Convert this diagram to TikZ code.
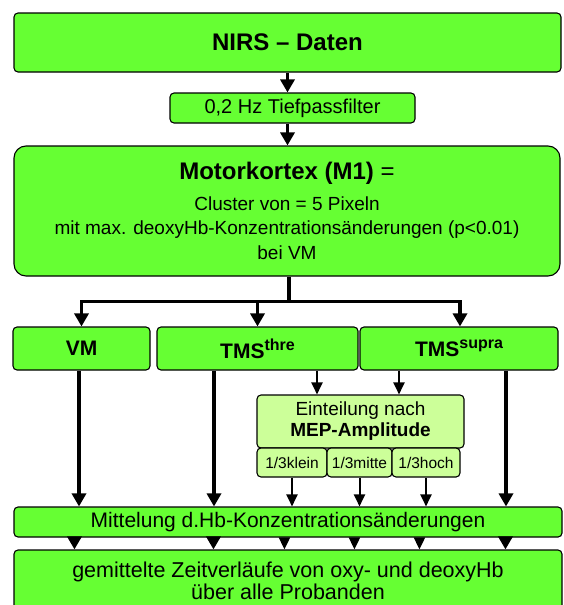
\documentclass[tikz,border=0pt]{standalone}
\usepackage{fontspec}
\setmainfont{Liberation Sans}
\usetikzlibrary{arrows.meta}
\definecolor{boxgreen}{HTML}{66FF33}
\definecolor{litegreen}{HTML}{CCFF99}
\tikzset{
  box/.style={draw, line width=1.1pt, fill=boxgreen, rounded corners=4pt, inner sep=0pt, align=center, font=\fontsize{20}{24}\selectfont},
  litebox/.style={box, fill=litegreen},
  bigarrow/.style={line width=3.6pt, -{Triangle[width=14pt,length=13pt]}},
  smallarrow/.style={line width=2pt, -{Triangle[width=11pt,length=12pt]}},
  bar/.style={line width=4pt}
}

\begin{document}
\begin{tikzpicture}[x=1pt,y=-1pt]
			%%%%% START %%%%%
			\path[use as bounding box, clip] (0,0) rectangle (563,605);
			
			\node[box, minimum width=547pt, minimum height=59pt, font=\fontsize{24}{28}\selectfont\bfseries] (nirs) at (287.5,42.5) {NIRS – Daten};
			\node[box, minimum width=245pt, minimum height=30pt] (tief) at (292.5,108) {0,2 Hz Tiefpassfilter};
			\node[box, rounded corners=12pt, minimum width=546pt, minimum height=130pt, font=\fontsize{19}{24.5}\selectfont] (motor) at (287,211)
			  {{\fontsize{24}{28}\selectfont\textbf{Motorkortex (M1)} =}\\[6pt]
			   Cluster von = 5 Pixeln\\
			   mit max. deoxyHb-Konzentrationsänderungen (p<0.01)\\
			   bei VM};
			
			\node[box, minimum width=137pt, minimum height=43pt, font=\fontsize{21}{24}\selectfont\bfseries] (vm) at (81.5,348.5) {VM};
			\node[box, minimum width=201pt, minimum height=43pt, font=\fontsize{21}{24}\selectfont\bfseries] (thre) at (257.5,348.5)
			  {TMS\raisebox{8pt}{\fontsize{16}{16}\selectfont thre}};
			\node[box, minimum width=198pt, minimum height=43pt, font=\fontsize{21}{24}\selectfont\bfseries] (supra) at (459,348.5)
			  {TMS\raisebox{8pt}{\fontsize{16}{16}\selectfont supra}};
			
			\node[litebox, minimum width=207pt, minimum height=53pt, font=\fontsize{19}{21}\selectfont] (eint) at (360.5,421.5) {Einteilung nach\\\textbf{MEP-Amplitude}};
			\node[litebox, minimum width=70pt, minimum height=29pt, font=\fontsize{15.5}{18}\selectfont] (klein) at (292,462.5) {1/3klein};
			\node[litebox, minimum width=65pt, minimum height=29pt, font=\fontsize{15.5}{18}\selectfont] (mitte) at (359.5,462.5) {1/3mitte};
			\node[litebox, minimum width=68pt, minimum height=29pt, font=\fontsize{15.5}{18}\selectfont] (hoch) at (426,462.5) {1/3hoch};
			
			\node[box, minimum width=548pt, minimum height=30pt, font=\fontsize{21}{24}\selectfont] (mittel) at (288,522) {Mittelung d.Hb-Konzentrationsänderungen};
			\node[box, minimum width=548pt, minimum height=62pt, font=\fontsize{21.5}{22}\selectfont] (gem) at (288,581)
			  {gemittelte Zeitverläufe von oxy- und deoxyHb\\über alle Probanden};
			
			% top chain
			\draw[bigarrow] (nirs.south) -- (nirs.south |- tief.north);
			\draw[bigarrow] (nirs.south |- tief.south) -- (nirs.south |- motor.north);
			
			% split to the three conditions
			\coordinate (split) at ([xshift=2pt, yshift=-25pt]motor.south);
			\draw[bar] ([xshift=2pt]motor.south) -- (split);
			\draw[bigarrow] (split) -| (vm.north);
			\draw[bigarrow] (split) -| (thre.north);
			\draw[bigarrow] (split) -| ([xshift=1pt]supra.north);
			
			% straight down to Mittelung
			\draw[bigarrow] ([xshift=-2.5pt]vm.south) -- ([xshift=-2.5pt]vm.south |- mittel.north);
			\draw[bigarrow] ([xshift=-43.5pt]thre.south) -- ([xshift=-43.5pt]thre.south |- mittel.north);
			\draw[bigarrow] ([xshift=47pt]supra.south) -- ([xshift=47pt]supra.south |- mittel.north);
			
			% via MEP split
			\draw[smallarrow] ([xshift=59.5pt]thre.south) -- ([xshift=59.5pt]thre.south |- eint.north);
			\draw[smallarrow] ([xshift=-60pt]supra.south) -- ([xshift=-60pt]supra.south |- eint.north);
			\foreach \part in {klein,mitte,hoch}
			  \draw[smallarrow] (\part.south) -- (\part.south |- mittel.north);
			
			% Mittelung to result
			\foreach \dx/\kind in {61/bigarrow,200/bigarrow,271/smallarrow,341/smallarrow,406/smallarrow,492/bigarrow}
			  \draw[\kind] ([xshift=\dx pt]mittel.south west) -- ([xshift=\dx pt]gem.north west);
			
			%%%%% END %%%%%
\end{tikzpicture}
\end{document}
